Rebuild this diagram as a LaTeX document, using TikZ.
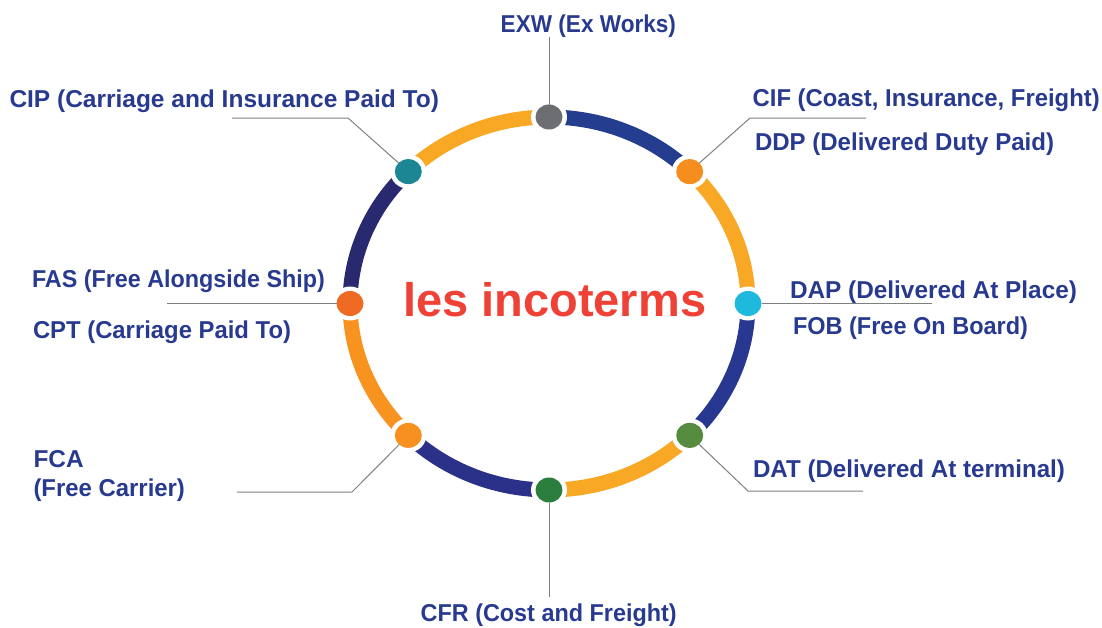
\documentclass[tikz,border=0pt]{standalone}
\usepackage{fontspec}
\usepackage{graphicx}
\setmainfont{Liberation Sans}
\usetikzlibrary{shapes.geometric}
\newcommand\fitw[2]{\resizebox{#1pt}{\height}{#2}}
\definecolor{cLabel}{RGB}{40,58,143}
\definecolor{cTitle}{RGB}{239,65,54}
\definecolor{cBlueA}{RGB}{37,61,143}
\definecolor{cBlueB}{RGB}{40,56,145}
\definecolor{cNavyA}{RGB}{43,48,137}
\definecolor{cNavyB}{RGB}{41,41,111}
\definecolor{cYel}{RGB}{249,168,37}
\definecolor{cOrArc}{RGB}{247,147,30}
\definecolor{dGray}{RGB}{109,110,113}
\definecolor{dOrA}{RGB}{245,142,31}
\definecolor{dCyan}{RGB}{31,185,222}
\definecolor{dGreenA}{RGB}{85,140,64}
\definecolor{dGreenB}{RGB}{43,126,61}
\definecolor{dOrB}{RGB}{247,144,30}
\definecolor{dOrC}{RGB}{239,107,35}
\definecolor{dTeal}{RGB}{28,134,148}
\definecolor{cLead}{RGB}{128,128,128}
\tikzset{
  ring/.style={line width=15pt, line cap=butt},
  dot/.style={ellipse, minimum width=27pt, minimum height=25pt, inner sep=0pt, outer sep=0pt, draw=none},
  leader/.style={draw=cLead, line width=1pt},
  lbl/.style={text=cLabel, font=\fontsize{24.4}{29}\selectfont\bfseries, inner sep=0pt, outer sep=0pt},
  ttl/.style={text=cTitle, font=\fontsize{47}{56}\selectfont\bfseries, inner sep=0pt}
}
\begin{document}
\begin{tikzpicture}[x=1pt,y=-1pt]
\useasboundingbox (0,0) rectangle (1102,627);
\coordinate (C) at (549,303.5);
% ring arcs
\foreach \a/\b/\c in {90/45/cBlueA, 45/0/cYel, 0/-45/cBlueB, -45/-90/cYel, -90/-135/cNavyA, -135/-180/cOrArc, 180/135/cNavyB, 135/90/cYel}
  \draw[ring, draw=\c] ([shift={(\a:199pt and 186.5pt)}]C) arc[start angle=\a, end angle=\b, x radius=199pt, y radius=186.5pt];
% white halos
\foreach \a in {90,45,0,-45,-90,-135,180,135}
  \fill[white] ([shift={(\a:199pt and 186.5pt)}]C) ellipse[x radius=18pt, y radius=17pt];
% dots
\node[dot, fill=dGray]   (exw) at ([shift={(90:199pt and 186.5pt)}]C) {};
\node[dot, fill=dOrA]    (cif) at ([shift={(45:199pt and 186.5pt)}]C) {};
\node[dot, fill=dCyan]   (dap) at ([shift={(0:199pt and 186.5pt)}]C) {};
\node[dot, fill=dGreenA] (dat) at ([shift={(-45:199pt and 186.5pt)}]C) {};
\node[dot, fill=dGreenB] (cfr) at ([shift={(-90:199pt and 186.5pt)}]C) {};
\node[dot, fill=dOrB]    (fca) at ([shift={(-135:199pt and 186.5pt)}]C) {};
\node[dot, fill=dOrC]    (fas) at ([shift={(180:199pt and 186.5pt)}]C) {};
\node[dot, fill=dTeal]   (cip) at ([shift={(135:199pt and 186.5pt)}]C) {};
% leader coordinates
\coordinate (exwk) at (549,37);
\coordinate (cipk) at (348,118);
\coordinate (cipe) at (232,118);
\coordinate (cifk) at (750,118);
\coordinate (cife) at (866,118);
\coordinate (fase) at (167,303.5);
\coordinate (dape) at (932,303.5);
\coordinate (fcak) at (352,492);
\coordinate (fcae) at (237,492);
\coordinate (cfre) at (549,597);
\coordinate (datk) at (748,491);
\coordinate (date) at (863,491);
% leaders
\draw[leader] (exw) -- (exwk);
\draw[leader] (cip) -- (cipk) -- (cipe);
\draw[leader] (cif) -- (cifk) -- (cife);
\draw[leader] (fas) -- (fase);
\draw[leader] (dap) -- (dape);
\draw[leader] (fca) -- (fcak) -- (fcae);
\draw[leader] (cfr) -- (cfre);
\draw[leader] (dat) -- (datk) -- (date);
% labels
\node[lbl, anchor=base west] (lexw) at (500.7,32.3) {\fitw{175.3}{EXW (Ex Works)}};
\node[lbl, anchor=base west] (lcip) at (9.5,107.7) {\fitw{429.5}{CIP (Carriage and Insurance Paid To)}};
\node[lbl, anchor=base west] (lcif) at (752.7,106.7) {\fitw{347}{CIF (Coast, Insurance, Freight)}};
\node[lbl, anchor=base west] (lddp) at (755,150.7) {\fitw{299}{DDP (Delivered Duty Paid)}};
\node[lbl, anchor=base west] (ldap) at (790,298) {\fitw{287}{DAP (Delivered At Place)}};
\node[lbl, anchor=base west] (lfob) at (793,334) {\fitw{235}{FOB (Free On Board)}};
\node[lbl, anchor=base west] (lfas) at (32,287.7) {\fitw{293}{FAS (Free Alongside Ship)}};
\node[lbl, anchor=base west] (lcpt) at (33,338.3) {\fitw{258}{CPT (Carriage Paid To)}};
\node[lbl, anchor=west, align=left] (lfca) at (33.5,476) {FCA\\\fitw{151.5}{(Free Carrier)}};
\node[lbl, anchor=base west] (lcfr) at (420.7,621.7) {\fitw{256}{CFR (Cost and Freight)}};
\node[lbl, anchor=base west] (ldat) at (753,477.7) {\fitw{312}{DAT (Delivered At terminal)}};
% title
\node[ttl, anchor=base] (title) at (554.7,316.7) {les incoterms};
\end{tikzpicture}
\end{document}
